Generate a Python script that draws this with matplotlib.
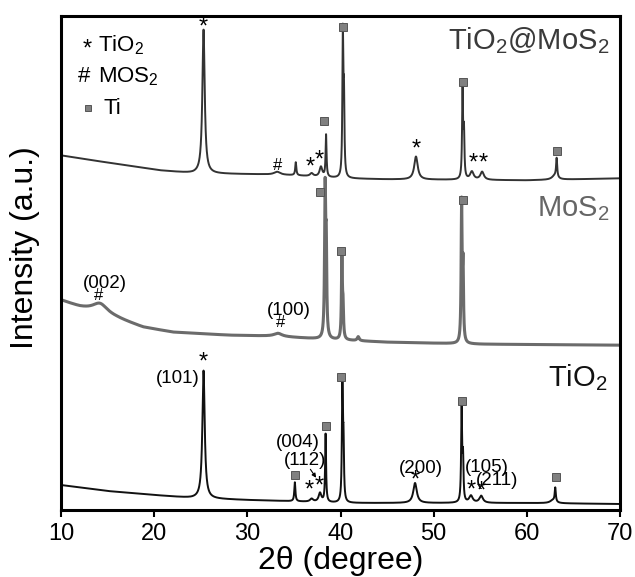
import numpy as np
import matplotlib
matplotlib.use("Agg")
import matplotlib.pyplot as plt

plt.rcParams["font.family"] = ["Liberation Sans", "DejaVu Sans"]
plt.rcParams["mathtext.fontset"] = "custom"
plt.rcParams["mathtext.rm"] = "Liberation Sans"
plt.rcParams["mathtext.it"] = "Liberation Sans:italic"

## values: 2theta in degree, intensity in a.u. (traces already stacked)

## TiO2 (bottom trace)
tio2_bg_x = [10, 15, 20, 24, 30, 34, 40, 45, 50, 60, 70]
tio2_bg_y = [25, 19, 15, 12, 10, 9, 7, 7, 7, 7, 6]
tio2_pos = [25.3, 35.1, 36.9, 37.8, 38.4, 40.2, 40.32, 48.0, 53.0, 53.15, 54.0, 55.1, 62.8, 63.05]
tio2_h = [128, 19, 3, 9, 68, 118, 55, 20, 95, 42, 7, 7, 3, 14]
tio2_w = [0.3, 0.14, 0.4, 0.35, 0.12, 0.12, 0.12, 0.45, 0.12, 0.12, 0.45, 0.45, 0.7, 0.14]

## MoS2 (middle trace)
mos2_bg_x = [10, 12, 16, 18.8, 22, 28, 33, 38, 45, 55, 70]
mos2_bg_y = [210, 203, 192, 183, 178, 175, 174, 171, 168, 166, 165]
mos2_pos = [14.2, 33.3, 38.35, 38.47, 40.15, 40.27, 41.9, 53.0, 53.15]
mos2_h = [10, 3, 146, 80, 79, 30, 4, 137, 72]
mos2_w = [2.0, 1.0, 0.14, 0.12, 0.12, 0.12, 0.25, 0.12, 0.12]

## TiO2@MoS2 (top trace)
comp_bg_x = [10, 13.4, 17.1, 20.6, 24.2, 31.4, 35, 40, 45, 60, 70]
comp_bg_y = [355, 350, 345, 340, 337, 336, 335, 332, 331, 330, 332]
comp_pos = [25.3, 33.2, 35.2, 36.9, 37.9, 38.45, 40.25, 40.37, 48.1, 53.1, 53.25, 54.1, 55.2, 63.0, 63.2]
comp_h = [144, 3, 13, 3, 10, 42, 140, 74, 23, 90, 45, 8, 8, 4, 19]
comp_w = [0.3, 0.8, 0.14, 0.4, 0.35, 0.12, 0.12, 0.12, 0.45, 0.12, 0.12, 0.45, 0.45, 0.7, 0.14]

## phase markers (x, y)
star_x = [25.3, 36.7, 37.7, 48.1, 54.2, 55.3, 25.3, 36.6, 37.7, 48.05, 54.0, 55.1]
star_y = [487, 347, 354, 365, 351, 351, 152, 23, 27, 33, 23, 22]
hash_x = [33.2, 14.0, 33.6]
hash_y = [345, 215, 188]
ti_x = [38.2, 40.3, 53.1, 63.2, 37.8, 40.0, 53.1, 35.1, 38.4, 40.0, 53.0, 63.1]
ti_y = [389, 483, 428, 359, 318, 259, 310, 35, 84, 133, 109, 33]

## Miller indices
hkl_text = ["(002)", "(100)", "(101)", "(004)", "(112)", "(200)", "(105)", "(211)"]
hkl_x = [14.7, 34.4, 24.9, 35.4, 36.2, 48.6, 55.7, 56.8]
hkl_y = [227, 200, 132, 68, 50, 42, 43, 30]
hkl_ha = ["center", "center", "right", "center", "center", "center", "center", "center"]

tt = np.arange(10, 70.001, 0.01)


def pattern(bg_x, bg_y, pos, h, w):
    y = np.interp(tt, bg_x, bg_y)
    for p, a, fw in zip(pos, h, w):
        y = y + a / (1 + ((tt - p) / (fw / 2)) ** 2)
    return y


fig = plt.figure(figsize=(6.35, 5.77), dpi=100)
ax = fig.add_axes([61 / 635, 1 - 510 / 577, (620 - 61) / 635, (510 - 15.5) / 577])

ax.plot(tt, pattern(comp_bg_x, comp_bg_y, comp_pos, comp_h, comp_w), color="#333333", lw=1.4)
ax.plot(tt, pattern(mos2_bg_x, mos2_bg_y, mos2_pos, mos2_h, mos2_w), color="#6b6b6b", lw=2.2)
ax.plot(tt, pattern(tio2_bg_x, tio2_bg_y, tio2_pos, tio2_h, tio2_w), color="#111111", lw=1.4)

for x, y in zip(star_x, star_y):
    ax.text(x, y - 4, "*", ha="center", va="center", fontsize=17)
for x, y in zip(hash_x, hash_y):
    ax.text(x, y, "#", ha="center", va="center", fontsize=12)
ax.plot(ti_x, ti_y, "s", ms=5.5, mfc="#808080", mec="#555555", mew=0.7, ls="none")

for t, x, y, ha in zip(hkl_text, hkl_x, hkl_y, hkl_ha):
    ax.text(x, y, t, ha=ha, va="center", fontsize=13.5)
ax.annotate("", xy=(37.55, 30), xytext=(36.6, 43),
            arrowprops=dict(arrowstyle="-|>", lw=0.8, color="k", mutation_scale=6))

## sample names
ax.text(68.9, 470, "TiO$_2$@MoS$_2$", ha="right", va="center", fontsize=21, color="#3a3a3a")
ax.text(68.9, 302, "MoS$_2$", ha="right", va="center", fontsize=21, color="#666666")
ax.text(68.6, 133, "TiO$_2$", ha="right", va="center", fontsize=21, color="#111111")

## legend
ax.text(12.8, 465 - 4, "*", ha="center", va="center", fontsize=17)
ax.text(14.0, 465, "TiO$_2$", ha="left", va="center", fontsize=16)
ax.text(12.5, 434, "#", ha="center", va="center", fontsize=16)
ax.text(14.0, 434, "MOS$_2$", ha="left", va="center", fontsize=16)
ax.plot([12.9], [402], "s", ms=5, mfc="#808080", mec="#555555", mew=0.7)
ax.text(14.6, 402, "Ti", ha="left", va="center", fontsize=16)

ax.set_xlim(10, 70)
ax.set_ylim(0, 495)
ax.set_xticks(np.arange(10, 71, 10))
ax.set_yticks([])
ax.tick_params(axis="x", direction="out", length=5, width=1.5, labelsize=17, pad=4)
for s in ax.spines.values():
    s.set_linewidth(2.2)
ax.set_xlabel("2θ (degree)", fontsize=23, labelpad=1)
ax.set_ylabel("Intensity (a.u.)", fontsize=23)
ax.yaxis.set_label_coords(-0.038, 0.53)

fig.savefig("out.png", dpi=100)
